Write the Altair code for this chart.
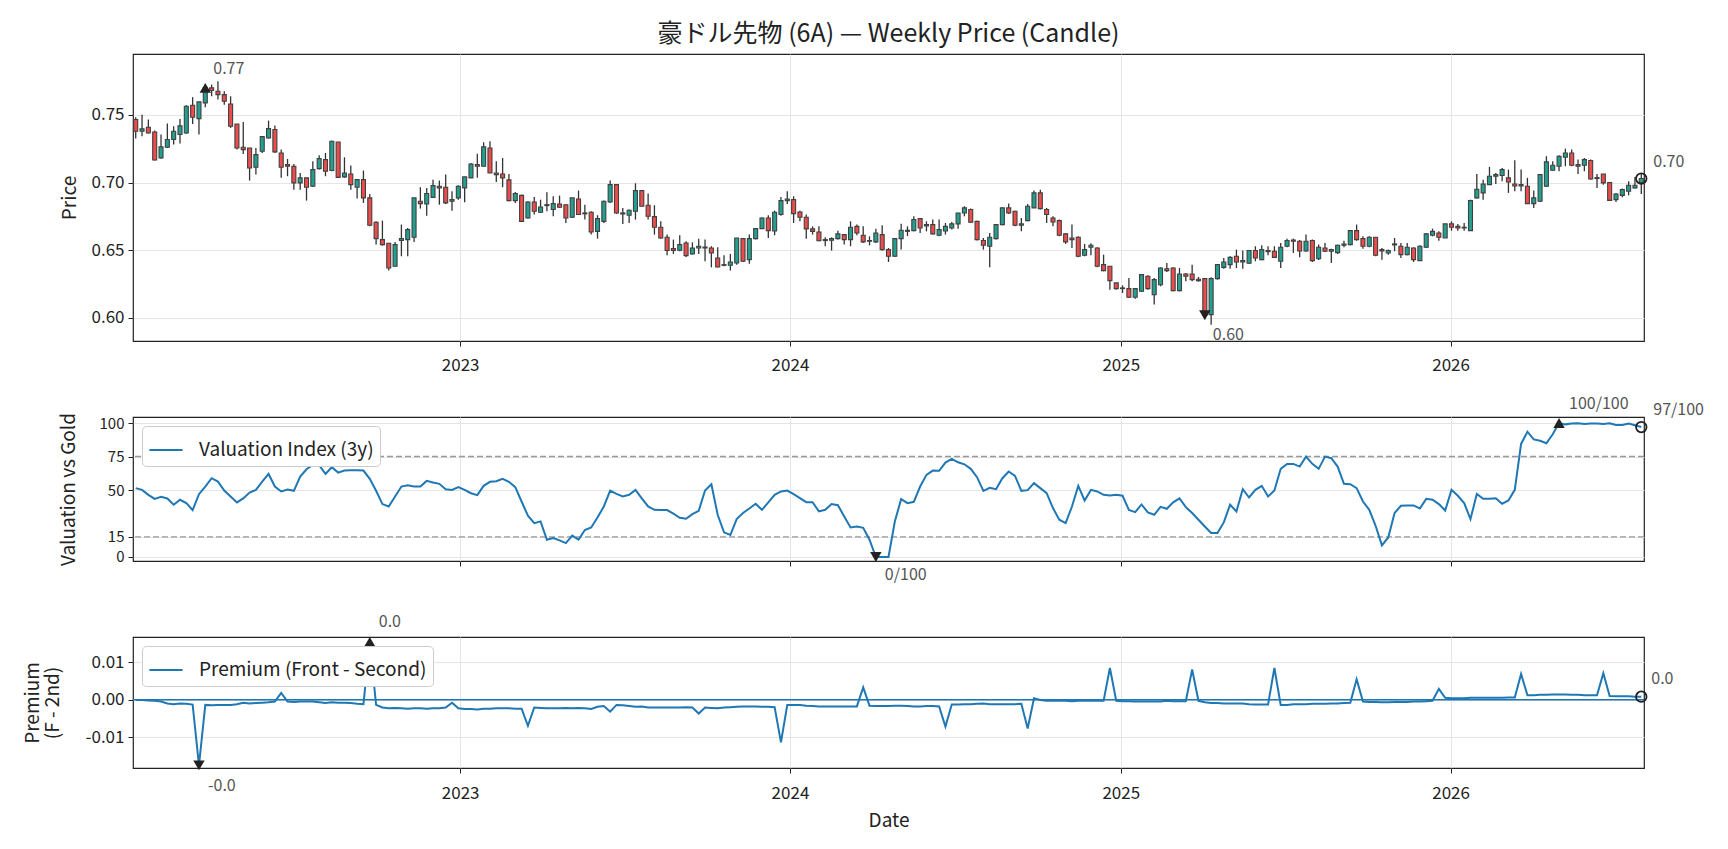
import altair as alt
import pandas as pd
import numpy as np

FONT = "Noto Sans CJK JP"
TITLE = "豪ドル先物 (6A) — Weekly Price (Candle)"
START_DATE = "2022-01-07"
N_WEEKS = 239

OPEN = [.7466,.7379,.7409,.7374,.7182,.7261,.7318,.7355,.7367,.7571,.7473,.7589,.7700,.7675,.7650,.7581,.7433,.7261,.7256,.7113,
.7232,.7330,.7392,.7219,.7133,.7121,.6998,.7035,.6973,.7103,.7170,.7089,.7300,.7042,.7064,.6966,.7022,.6887,.6707,.6579,
.6552,.6382,.6572,.6579,.6596,.6862,.6842,.6891,.6973,.6966,.6862,.6887,.6961,.7035,.7133,.7121,.7256,.7071,.7064,.7020,
.6867,.6906,.6739,.6857,.6781,.6830,.6801,.6842,.6837,.6744,.6879,.6769,.6781,.6640,.6714,.6857,.6985,.6776,.6759,.6788,
.6941,.6833,.6749,.6670,.6596,.6512,.6500,.6554,.6473,.6517,.6524,.6517,.6443,.6389,.6389,.6406,.6586,.6431,.6586,.6660,
.6739,.6643,.6764,.6867,.6874,.6783,.6744,.6658,.6635,.6579,.6574,.6586,.6616,.6579,.6677,.6611,.6567,.6562,.6616,.6505,
.6456,.6586,.6648,.6645,.6734,.6680,.6690,.6611,.6643,.6665,.6695,.6776,.6801,.6714,.6572,.6530,.6586,.6690,.6813,.6788,
.6685,.6719,.6813,.6924,.6801,.6739,.6719,.6621,.6591,.6596,.6463,.6522,.6517,.6394,.6382,.6259,.6222,.6217,.6153,.6197,
.6308,.6172,.6246,.6364,.6369,.6202,.6325,.6325,.6286,.6291,.6025,.6291,.6374,.6394,.6456,.6414,.6404,.6498,.6431,.6498,
.6493,.6419,.6530,.6576,.6567,.6495,.6572,.6438,.6517,.6493,.6483,.6537,.6542,.6645,.6586,.6530,.6596,.6505,.6480,.6547,
.6530,.6468,.6517,.6424,.6522,.6611,.6628,.6591,.6695,.6677,.6665,.6645,.6887,.6924,.6985,.7047,.7052,.7035,.6990,.6975,
.6973,.6845,.6862,.6973,.7091,.7121,.7187,.7219,.7133,.7128,.7163,.7037,.7064,.7000,.6874,.6906,.6936,.6961,.6998]
HIGH = [.7483,.7502,.7466,.7384,.7355,.7436,.7416,.7470,.7571,.7631,.7596,.7724,.7724,.7749,.7675,.7638,.7433,.7448,.7256,.7256,
.7340,.7458,.7421,.7244,.7175,.7138,.7071,.7035,.7158,.7202,.7219,.7310,.7300,.7187,.7126,.7022,.7089,.6916,.6714,.6719,
.6552,.6562,.6690,.6665,.6887,.6966,.6961,.7022,.7015,.7059,.6936,.6980,.7042,.7145,.7214,.7298,.7305,.7158,.7182,.7064,
.6931,.6911,.6862,.6894,.6874,.6929,.6899,.6904,.6837,.6887,.6941,.6837,.6788,.6759,.6867,.7015,.6985,.6813,.6801,.6995,
.6941,.6919,.6833,.6714,.6616,.6579,.6611,.6567,.6559,.6586,.6579,.6530,.6522,.6463,.6473,.6591,.6591,.6616,.6665,.6744,
.6759,.6793,.6894,.6936,.6899,.6793,.6764,.6677,.6677,.6596,.6596,.6645,.6621,.6714,.6690,.6677,.6603,.6660,.6685,.6517,
.6591,.6697,.6677,.6751,.6739,.6714,.6727,.6727,.6702,.6709,.6776,.6825,.6808,.6719,.6591,.6628,.6695,.6818,.6845,.6793,
.6739,.6842,.6941,.6948,.6813,.6751,.6727,.6628,.6690,.6603,.6547,.6552,.6522,.6468,.6382,.6259,.6241,.6296,.6222,.6320,
.6315,.6296,.6374,.6406,.6374,.6369,.6333,.6394,.6303,.6296,.6301,.6399,.6443,.6456,.6505,.6498,.6498,.6530,.6537,.6530,
.6530,.6554,.6586,.6586,.6576,.6616,.6579,.6542,.6554,.6512,.6542,.6571,.6650,.6690,.6603,.6603,.6596,.6517,.6505,.6591,
.6554,.6554,.6522,.6537,.6628,.6660,.6640,.6695,.6714,.6695,.6702,.6874,.7064,.7022,.7116,.7071,.7108,.7096,.7165,.7096,
.7035,.6941,.7064,.7195,.7158,.7202,.7251,.7244,.7170,.7182,.7170,.7064,.7064,.7005,.6924,.6956,.7010,.7042,.7071]
LOW = [.7325,.7342,.7362,.7163,.7177,.7256,.7281,.7288,.7360,.7433,.7355,.7557,.7638,.7613,.7576,.7404,.7244,.7212,.7015,.7059,
.7219,.7325,.7219,.7035,.7047,.6948,.6948,.6867,.6968,.7096,.7047,.7084,.7035,.7035,.6948,.6882,.6850,.6677,.6542,.6534,
.6350,.6382,.6456,.6456,.6562,.6808,.6756,.6887,.6837,.6842,.6793,.6874,.6855,.7035,.7035,.7121,.7071,.7005,.6966,.6862,
.6850,.6709,.6734,.6764,.6776,.6788,.6751,.6813,.6702,.6739,.6764,.6727,.6616,.6586,.6702,.6850,.6768,.6695,.6702,.6727,
.6825,.6727,.6616,.6586,.6463,.6473,.6493,.6451,.6468,.6473,.6419,.6374,.6374,.6382,.6350,.6394,.6414,.6401,.6579,.6660,
.6591,.6611,.6756,.6842,.6702,.6714,.6586,.6616,.6567,.6530,.6498,.6579,.6542,.6530,.6611,.6554,.6537,.6554,.6498,.6414,
.6451,.6505,.6606,.6640,.6628,.6640,.6616,.6603,.6616,.6653,.6660,.6751,.6702,.6572,.6505,.6374,.6579,.6685,.6769,.6677,
.6640,.6714,.6813,.6801,.6702,.6677,.6603,.6547,.6517,.6448,.6456,.6463,.6374,.6345,.6209,.6209,.6185,.6148,.6143,.6192,
.6209,.6099,.6234,.6340,.6197,.6197,.6271,.6271,.6268,.6010,.5950,.6283,.6364,.6364,.6369,.6364,.6401,.6419,.6426,.6463,
.6443,.6369,.6522,.6480,.6448,.6490,.6414,.6429,.6488,.6406,.6473,.6522,.6537,.6571,.6512,.6522,.6456,.6431,.6468,.6493,
.6443,.6463,.6414,.6424,.6517,.6603,.6571,.6591,.6645,.6645,.6645,.6645,.6882,.6874,.6985,.6990,.7010,.6924,.6936,.6936,
.6842,.6813,.6857,.6968,.7091,.7084,.7121,.7121,.7064,.7084,.7022,.6961,.6985,.6867,.6857,.6892,.6906,.6956,.6916]
CLOSE = [.7379,.7397,.7367,.7167,.7264,.7318,.7379,.7419,.7564,.7483,.7596,.7700,.7680,.7650,.7601,.7416,.7256,.7244,.7108,.7207,
.7340,.7399,.7227,.7113,.7121,.6998,.7035,.6966,.7096,.7177,.7084,.7305,.7039,.7071,.6985,.7022,.6887,.6685,.6586,.6542,
.6369,.6542,.6586,.6653,.6887,.6845,.6919,.6978,.6961,.6850,.6874,.6973,.7042,.7138,.7121,.7264,.7071,.7059,.7035,.6867,
.6919,.6714,.6857,.6788,.6820,.6837,.6845,.6818,.6739,.6887,.6764,.6776,.6635,.6734,.6862,.6985,.6776,.6768,.6796,.6941,
.6825,.6751,.6670,.6591,.6498,.6498,.6542,.6461,.6517,.6530,.6517,.6480,.6377,.6394,.6414,.6591,.6419,.6586,.6660,.6739,
.6645,.6781,.6867,.6879,.6771,.6744,.6658,.6640,.6571,.6572,.6586,.6621,.6579,.6670,.6628,.6562,.6572,.6628,.6505,.6456,
.6586,.6648,.6640,.6727,.6665,.6690,.6621,.6653,.6677,.6695,.6776,.6813,.6707,.6579,.6537,.6596,.6690,.6813,.6776,.6685,
.6695,.6825,.6924,.6808,.6764,.6709,.6611,.6562,.6579,.6456,.6505,.6537,.6382,.6350,.6276,.6217,.6217,.6153,.6217,.6320,
.6217,.6283,.6369,.6350,.6202,.6325,.6308,.6283,.6276,.6020,.6291,.6394,.6414,.6448,.6414,.6424,.6498,.6443,.6505,.6490,
.6448,.6522,.6572,.6567,.6495,.6567,.6424,.6522,.6493,.6505,.6537,.6547,.6645,.6579,.6530,.6596,.6463,.6495,.6498,.6540,
.6468,.6522,.6431,.6530,.6621,.6640,.6596,.6695,.6670,.6665,.6670,.6867,.6951,.6990,.7047,.7059,.7096,.7005,.6975,.6985,
.6845,.6887,.7059,.7153,.7128,.7195,.7219,.7128,.7121,.7170,.7027,.7030,.6998,.6869,.6916,.6948,.6980,.6980,.7030]

VALUATION = [51.4,50.1,46.4,43.4,44.9,43.7,39.0,42.7,40.2,35.0,
46.9,52.6,58.8,56.3,49.6,45.2,40.7,43.7,48.1,50.1,
56.3,62.0,52.6,48.9,50.4,49.4,60.0,65.5,68.7,68.5,
62.0,67.0,63.0,64.5,64.8,64.8,64.5,58.3,49.4,39.5,
37.7,45.2,52.6,53.6,52.6,52.6,56.8,55.6,54.6,50.6,
50.1,52.1,50.1,47.6,46.2,53.1,56.1,56.6,58.3,56.1,
52.1,41.4,30.8,25.3,26.6,12.9,14.1,12.4,10.4,15.9,
12.9,20.1,22.0,29.5,37.7,49.6,47.1,45.2,46.4,50.1,
43.7,37.7,35.2,35.0,35.0,32.3,29.3,28.5,32.0,34.5,
49.6,54.3,31.5,18.4,16.4,28.3,32.8,36.2,39.7,35.2,
40.7,46.4,48.9,49.6,46.9,43.9,40.9,40.9,34.0,35.2,
39.5,38.7,30.3,22.1,22.8,21.8,12.9,0.0,0.0,0.0,
26.5,43.2,40.2,41.2,52.6,61.3,64.5,64.3,70.5,73.2,
70.7,69.2,65.8,59.6,49.4,51.6,50.6,58.8,63.8,60.5,
49.4,49.9,55.1,51.4,47.6,36.5,27.8,25.3,37.7,53.1,
42.2,50.1,48.9,46.4,45.9,46.4,45.7,35.2,33.5,39.2,
33.3,31.5,37.4,36.0,40.8,43.7,37.2,32.8,27.8,22.8,
17.9,17.9,25.8,39.0,34.0,50.6,44.4,50.1,53.1,45.2,
49.6,65.8,69.5,69.5,67.5,74.9,69.5,65.8,74.9,73.7,
67.5,54.6,54.3,51.4,41.4,35.2,23.3,8.7,14.6,32.8,
38.2,38.5,38.5,36.2,43.4,42.7,39.5,34.7,50.1,45.7,
40.2,28.3,47.1,43.4,43.4,43.9,39.7,42.2,50.1,84.4,
93.5,87.8,86.8,84.9,91.6,100.0,99.0,99.6,99.8,99.2,
99.6,99.7,99.2,99.8,98.6,98.5,99.7,98.4,97.0]

PREMIUM = [-0.0001,-0.0001,-0.0002,-0.0003,-0.0005,-0.0010,-0.0012,-0.0010,-0.0011,-0.0013,
-0.0176,-0.0014,-0.0015,-0.0014,-0.0014,-0.0014,-0.0012,-0.0008,-0.0010,-0.0009,
-0.0008,-0.0007,-0.0005,0.0018,-0.0005,-0.0006,-0.0005,-0.0005,-0.0005,-0.0007,
-0.0009,-0.0007,-0.0008,-0.0008,-0.0009,-0.0011,-0.0012,0.0155,-0.0014,-0.0021,
-0.0023,-0.0022,-0.0023,-0.0024,-0.0023,-0.0023,-0.0024,-0.0023,-0.0023,-0.0021,
-0.0008,-0.0023,-0.0025,-0.0025,-0.0026,-0.0024,-0.0024,-0.0023,-0.0023,-0.0023,
-0.0024,-0.0024,-0.0070,-0.0021,-0.0022,-0.0023,-0.0023,-0.0023,-0.0022,-0.0023,
-0.0022,-0.0023,-0.0025,-0.0019,-0.0017,-0.0032,-0.0014,-0.0015,-0.0017,-0.0019,
-0.0018,-0.0021,-0.0021,-0.0021,-0.0021,-0.0021,-0.0021,-0.0020,-0.0021,-0.0037,
-0.0021,-0.0022,-0.0023,-0.0021,-0.0020,-0.0019,-0.0018,-0.0018,-0.0018,-0.0019,
-0.0019,-0.0020,-0.0114,-0.0014,-0.0014,-0.0014,-0.0016,-0.0017,-0.0018,-0.0018,
-0.0018,-0.0018,-0.0018,-0.0018,-0.0018,0.0033,-0.0016,-0.0017,-0.0017,-0.0017,
-0.0016,-0.0016,-0.0017,-0.0018,-0.0018,-0.0017,-0.0017,-0.0018,-0.0072,-0.0013,
-0.0013,-0.0012,-0.0012,-0.0011,-0.0010,-0.0012,-0.0012,-0.0012,-0.0012,-0.0012,
-0.0011,-0.0077,0.0004,-0.0001,-0.0003,-0.0003,-0.0003,-0.0003,-0.0004,-0.0003,
-0.0003,-0.0003,-0.0003,-0.0003,0.0085,-0.0003,-0.0004,-0.0004,-0.0005,-0.0005,
-0.0005,-0.0005,-0.0005,-0.0003,-0.0004,-0.0004,-0.0004,0.0081,-0.0003,-0.0007,
-0.0009,-0.0009,-0.0010,-0.0010,-0.0010,-0.0010,-0.0012,-0.0013,-0.0013,-0.0013,
0.0085,-0.0014,-0.0014,-0.0012,-0.0012,-0.0012,-0.0011,-0.0011,-0.0011,-0.0010,
-0.0010,-0.0009,-0.0008,0.0055,-0.0005,-0.0006,-0.0006,-0.0007,-0.0007,-0.0006,
-0.0006,-0.0006,-0.0005,-0.0005,-0.0004,-0.0003,0.0029,0.0005,0.0004,0.0004,
0.0004,0.0005,0.0005,0.0005,0.0005,0.0005,0.0005,0.0006,0.0006,0.0069,
0.0012,0.0012,0.0013,0.0013,0.0014,0.0014,0.0014,0.0013,0.0013,0.0012,
0.0012,0.0012,0.0071,0.0010,0.0009,0.0009,0.0009,0.0008,0.0008]

YEAR_TICKS = [2023, 2024, 2025, 2026]

TEAL = "#22a08f"
RED = "#ee4b4b"
EDGE = "#404040"
BLUE = "#1f77b4"
INK = "#222222"
ANN = "#555555"

TICK_FS = 17
AXTITLE_FS = 19
ANN_FS = 16
LEG_FS = 19

W = 1511
dates = pd.date_range(START_DATE, periods=N_WEEKS, freq="7D")

price = pd.DataFrame({"date": dates, "open": OPEN, "high": HIGH, "low": LOW, "close": CLOSE})
price["high"] = price[["open", "high", "close"]].max(axis=1)
price["low"] = price[["open", "low", "close"]].min(axis=1)
price["dir"] = np.where(price["close"] >= price["open"], "up", "down")

val = pd.DataFrame({"date": dates, "v": VALUATION, "series": "Valuation Index (3y)"})
prem = pd.DataFrame({"date": dates, "v": PREMIUM, "series": "Premium (Front - Second)"})

xscale = alt.Scale(domain=[alt.DateTime(year=2022, month=1, date=4),
                           alt.DateTime(year=2026, month=8, date=3)], nice=False, padding=0)
year_vals = [alt.DateTime(year=y, month=1, date=1) for y in YEAR_TICKS]


def xenc(kind):
    if kind == "top":
        ax = alt.Axis(title=None, format="%Y", values=year_vals, labelPadding=11)
    elif kind == "mid":
        ax = alt.Axis(title=None, labels=False, values=year_vals)
    else:
        ax = alt.Axis(title="Date", format="%Y", values=year_vals, labelPadding=12, titlePadding=10)
    return alt.X("date:T", scale=xscale, axis=ax)


def point_df(series, idx, label):
    return pd.DataFrame({"date": [dates[idx]], "v": [series[idx]], "label": [label]})


def annotate(df, shape, dx, dy, yenc, filled=True):
    if filled:
        pt = alt.Chart(df).mark_point(shape=shape, filled=True, color=INK, size=130, opacity=1)
    else:
        pt = alt.Chart(df).mark_point(shape="circle", filled=False, color=INK, size=110,
                                      strokeWidth=1.8, opacity=1)
    pt = pt.encode(x=alt.X("date:T", scale=xscale), y=yenc("v"))
    tx = alt.Chart(df).mark_text(align="left", baseline="middle", dx=dx, dy=dy,
                                 fontSize=ANN_FS, color=ANN).encode(
        x=alt.X("date:T", scale=xscale), y=yenc("v"), text="label:N")
    return [pt, tx]


# ---------- top: candles ----------
top_scale = alt.Scale(domain=[0.583, 0.795], nice=False, zero=False, padding=0)
top_axis = alt.Axis(title="Price", values=[0.60, 0.65, 0.70, 0.75], format=".2f",
                    titleX=-64, titleBaseline="middle")


def ytop(field):
    return alt.Y(f"{field}:Q", scale=top_scale, axis=top_axis)


wicks = alt.Chart(price).mark_rule(color="#333333", strokeWidth=1.3).encode(
    x=xenc("top"), y=ytop("low"), y2="high:Q")
bodies = alt.Chart(price).mark_bar(size=4, stroke=EDGE, strokeWidth=1.1).encode(
    x=xenc("top"), y=ytop("open"), y2="close:Q",
    color=alt.Color("dir:N", scale=alt.Scale(domain=["up", "down"], range=[TEAL, RED]), legend=None))

imax = int(np.argmax(CLOSE))
imin = int(np.argmin(CLOSE))
ilast = N_WEEKS - 1
top_layers = [wicks, bodies]
top_layers += annotate(point_df(CLOSE, imax, f"{CLOSE[imax]:.2f}"), "triangle-up", 8, -19, ytop)
top_layers += annotate(point_df(CLOSE, imin, f"{CLOSE[imin]:.2f}"), "triangle-down", 8, 20, ytop)
top_layers += annotate(point_df(CLOSE, ilast, f"{CLOSE[ilast]:.2f}"), "circle", 12, -17, ytop, filled=False)
top = alt.layer(*top_layers).properties(width=W, height=287)

# ---------- middle: valuation ----------
mid_scale = alt.Scale(domain=[-3, 104.5], nice=False, zero=False)
mid_axis = alt.Axis(title="Valuation vs Gold", values=[0, 15, 50, 75, 100],
                    titleX=-65, titleBaseline="middle", labelFontSize=15)


def ymid(field):
    return alt.Y(f"{field}:Q", scale=mid_scale, axis=mid_axis)


LEG = dict(title=None, orient="top-left", offset=9, fillColor="white", strokeColor="#cccccc",
           cornerRadius=4, padding=6, symbolType="stroke", symbolStrokeWidth=2,
           symbolSize=1100, labelFontSize=LEG_FS, labelColor=INK, labelOffset=15, labelLimit=500)

bands = alt.Chart(pd.DataFrame({"v": [75, 15]})).mark_rule(
    color="#999999", strokeDash=[6, 3], strokeWidth=1.3).encode(y=ymid("v"))
vline = alt.Chart(val).mark_line(strokeWidth=2).encode(
    x=xenc("mid"), y=ymid("v"),
    color=alt.Color("series:N", scale=alt.Scale(range=[BLUE]), legend=alt.Legend(**LEG)))

vmax = int(np.argmax(VALUATION))
vmin = int(np.argmin(VALUATION))
mid_layers = [bands, vline]
mid_layers += annotate(point_df(VALUATION, vmin, f"{VALUATION[vmin]:.0f}/100"), "triangle-down", 9, 18, ymid)
mid_layers += annotate(point_df(VALUATION, vmax, f"{VALUATION[vmax]:.0f}/100"), "triangle-up", 10, -19, ymid)
mid_layers += annotate(point_df(VALUATION, ilast, f"{VALUATION[ilast]:.0f}/100"), "circle", 12, -17, ymid, filled=False)
mid = alt.layer(*mid_layers).properties(width=W, height=144)

# ---------- bottom: premium ----------
bot_scale = alt.Scale(domain=[-0.0183, 0.0168], nice=False, zero=False)
bot_axis = alt.Axis(title=["Premium", "(F - 2nd)"], values=[-0.01, 0.0, 0.01],
                    labelExpr="datum.value < 0 ? '-' + format(-datum.value, '.2f') : format(datum.value, '.2f')",
                    titleX=-101, titleBaseline="middle", titleLineHeight=20)


def ybot(field):
    return alt.Y(f"{field}:Q", scale=bot_scale, axis=bot_axis)


zero = alt.Chart(pd.DataFrame({"v": [0.0]})).mark_rule(color=BLUE, strokeWidth=1.6).encode(y=ybot("v"))
pline = alt.Chart(prem).mark_line(strokeWidth=2).encode(
    x=xenc("bot"), y=ybot("v"),
    color=alt.Color("series:N", scale=alt.Scale(range=[BLUE]), legend=alt.Legend(**LEG)))


def fmt1(v):
    return f"{v:.1f}"


pmax = int(np.argmax(PREMIUM))
pmin = int(np.argmin(PREMIUM))
bot_layers = [zero, pline]
bot_layers += annotate(point_df(PREMIUM, pmin, fmt1(PREMIUM[pmin])), "triangle-down", 9, 21, ybot)
bot_layers += annotate(point_df(PREMIUM, pmax, fmt1(PREMIUM[pmax])), "triangle-up", 9, -20, ybot)
bot_layers += annotate(point_df(PREMIUM, ilast, fmt1(PREMIUM[ilast])), "circle", 10, -18, ybot, filled=False)
bot = alt.layer(*bot_layers).properties(width=W, height=131)

chart = alt.vconcat(top, mid, bot, spacing=76, bounds="flush").resolve_scale(color="independent").properties(
    title=alt.TitleParams(TITLE, fontSize=25, fontWeight="normal", anchor="middle", frame="group",
                          offset=6, color=INK),
    padding={"left": 14, "top": 14, "right": 10, "bottom": 10},
).configure(font=FONT).configure_view(
    stroke=INK, strokeWidth=1.2
).configure_axis(
    domain=False, tickColor=INK, tickSize=5, tickWidth=1, labelColor=INK, labelFontSize=TICK_FS,
    titleColor=INK, titleFontSize=AXTITLE_FS, titleFontWeight="normal", gridColor="#e5e5e5", gridWidth=1,
    labelPadding=4
)

chart.save("out.html", embed_options={"renderer": "svg", "actions": False})
